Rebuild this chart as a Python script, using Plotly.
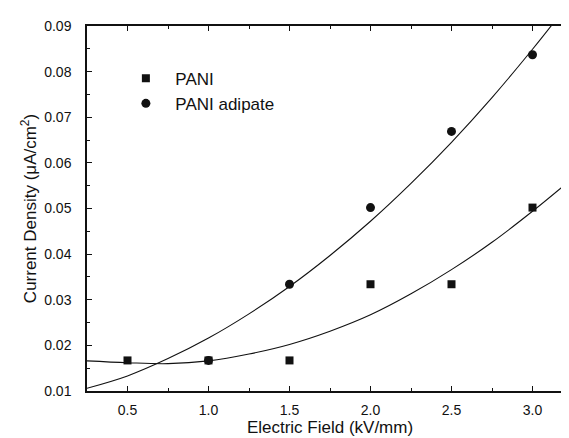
import plotly.graph_objects as go

# Measured data
field_pani = [0.5, 1.0, 1.5, 2.0, 2.5, 3.0]
current_pani = [0.0167, 0.0167, 0.0167, 0.0334, 0.0334, 0.0502]

field_adipate = [1.0, 1.5, 2.0, 2.5, 3.0]
current_adipate = [0.0167, 0.0334, 0.0502, 0.0669, 0.0837]

# Fit curves
fit_x = [0.25, 0.5, 0.75, 1.0, 1.25, 1.5, 1.75, 2.0, 2.25, 2.5, 2.75, 3.0, 3.25]
fit_pani = [0.0166, 0.0162, 0.0160, 0.0166, 0.0181, 0.0202, 0.0231, 0.0267,
            0.0313, 0.0366, 0.0426, 0.0494, 0.0567]
fit_x_adipate = [0.25, 0.5, 0.75, 1.0, 1.25, 1.5, 1.75, 2.0, 2.25, 2.5, 2.75, 3.0, 3.15]
fit_adipate = [0.0106, 0.0133, 0.0171, 0.0216, 0.0269, 0.0329, 0.0397, 0.0472,
               0.0555, 0.0645, 0.0743, 0.0849, 0.0916]

x_ticks = [0.5, 1.0, 1.5, 2.0, 2.5, 3.0]
y_ticks = [0.01, 0.02, 0.03, 0.04, 0.05, 0.06, 0.07, 0.08, 0.09]

FONT = "Liberation Sans, Arial, sans-serif"
INK = "#111111"
NB = "\u00a0\u00a0"

fig = go.Figure()
fig.add_trace(go.Scatter(x=fit_x, y=fit_pani, mode="lines", line=dict(color=INK, width=1.1, shape="spline"),
                         showlegend=False, hoverinfo="skip"))
fig.add_trace(go.Scatter(x=fit_x_adipate, y=fit_adipate, mode="lines", line=dict(color=INK, width=1.1, shape="spline"),
                         showlegend=False, hoverinfo="skip"))
fig.add_trace(go.Scatter(x=field_pani, y=current_pani, mode="markers", name=NB + "PANI",
                         marker=dict(symbol="square", size=8, color=INK)))
fig.add_trace(go.Scatter(x=field_adipate, y=current_adipate, mode="markers", name=NB + "PANI adipate",
                         marker=dict(symbol="circle", size=9, color=INK)))

axis_common = dict(showline=True, linecolor=INK, linewidth=1.5, mirror="ticks", ticks="inside",
                   tickcolor=INK, ticklen=5, tickwidth=1.2, showgrid=False, zeroline=False,
                   tickfont=dict(family=FONT, size=14, color=INK))

fig.update_layout(
    width=569, height=438,
    margin=dict(l=79, r=2, t=18, b=55),
    paper_bgcolor="white", plot_bgcolor="white",
    font=dict(family=FONT, color=INK),
    xaxis=dict(range=[0.25, 3.25], tickvals=x_ticks, ticktext=[f"{v:.1f}" for v in x_ticks],
               title=dict(text="Electric Field (kV/mm)", font=dict(family=FONT, size=17, color=INK), standoff=5),
               minor=dict(ticks="inside", ticklen=3, tickcolor=INK, dtick=0.25, tick0=0.25),
               ticklabelstandoff=5, **axis_common),
    yaxis=dict(range=[0.01, 0.09], tickvals=y_ticks, ticktext=[f"{v:.2f}" for v in y_ticks],
               title=dict(text="Current Density (μA/cm<sup>2</sup>)", font=dict(family=FONT, size=17, color=INK), standoff=3),
               minor=dict(ticks="inside", ticklen=3, tickcolor=INK, dtick=0.005, tick0=0.005),
               ticklabelstandoff=11, **axis_common),
    legend=dict(x=0.08, y=0.905, xanchor="left", yanchor="top", bgcolor="rgba(0,0,0,0)",
                font=dict(family=FONT, size=17, color=INK), tracegroupgap=0, itemsizing="trace"),
)

fig.write_html("out.html")
